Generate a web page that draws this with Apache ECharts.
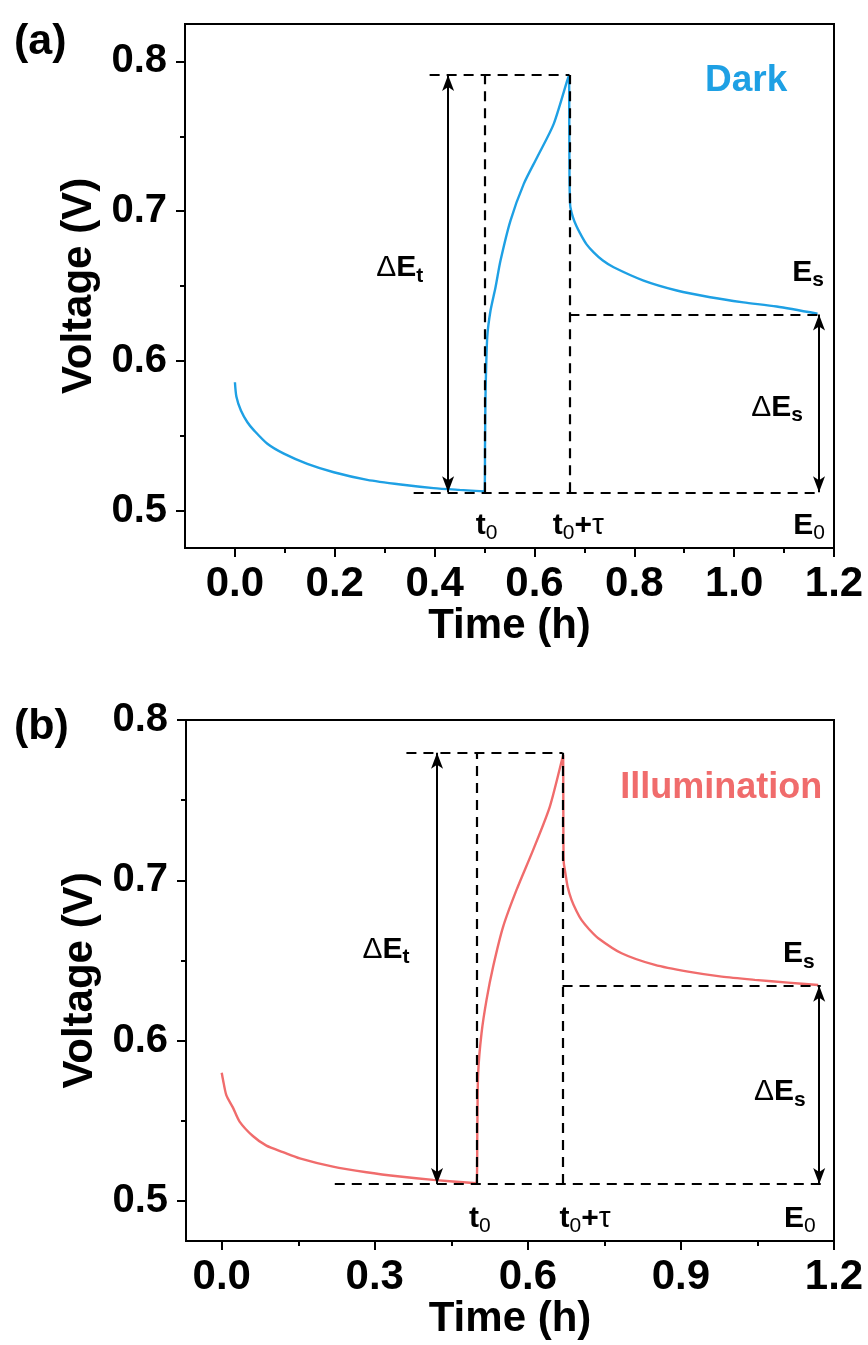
<!DOCTYPE html>
<html>
<head>
<meta charset="utf-8">
<script src="https://cdn.jsdelivr.net/npm/echarts@6/dist/echarts.min.js"></script>
<style>
  html, body { margin: 0; padding: 0; background: #fff; }
  #chart { width: 868px; height: 1345px; }
</style>
</head>
<body>
<div id="chart"></div>
<script>
// ---- Galvanostatic pulse response, dark ----
const darkTime = [0.000, 0.003, 0.012, 0.025, 0.0386, 0.065, 0.098, 0.145, 0.198, 0.265, 0.332, 0.398, 0.45, 0.5,
  0.501, 0.502, 0.5054, 0.512, 0.522, 0.532, 0.552, 0.5786, 0.6054, 0.6386, 0.669,
  0.6698, 0.6702, 0.671, 0.672, 0.677, 0.684, 0.692, 0.704, 0.7186, 0.737, 0.7586, 0.8186, 0.885, 0.952, 1.0186, 1.085, 1.167];
const darkVoltage = [0.5857, 0.576, 0.5668, 0.559, 0.5534, 0.5446, 0.538, 0.5312, 0.5256, 0.5205, 0.5174, 0.515, 0.5138, 0.5128,
  0.545, 0.578, 0.6158, 0.6336, 0.6492, 0.667, 0.6937, 0.7182, 0.736, 0.7583, 0.791,
  0.75, 0.72, 0.708, 0.7026, 0.696, 0.690, 0.6848, 0.678, 0.6725, 0.667, 0.6625, 0.6536, 0.647, 0.6425, 0.6391, 0.6363, 0.6315];

// ---- Galvanostatic pulse response, illuminated ----
const lightTime = [0.000, 0.0026, 0.009, 0.022, 0.035, 0.061, 0.0876, 0.12, 0.153, 0.218, 0.2837, 0.349, 0.414, 0.4994,
  0.501, 0.5026, 0.5092, 0.519, 0.532, 0.5516, 0.5778, 0.6104, 0.6431, 0.6692,
  0.6695, 0.6698, 0.6705, 0.6725, 0.678, 0.6856, 0.695, 0.705, 0.72, 0.738, 0.7837, 0.849, 0.914, 0.98, 1.045, 1.11, 1.169];
const lightVoltage = [0.580, 0.5755, 0.566, 0.5582, 0.5495, 0.5405, 0.5345, 0.5305, 0.5266, 0.5214, 0.5179, 0.5152, 0.5131, 0.511,
  0.545, 0.5797, 0.6046, 0.6254, 0.6462, 0.6711, 0.694, 0.719, 0.746, 0.7782,
  0.745, 0.72, 0.7107, 0.7065, 0.696, 0.6878, 0.681, 0.6753, 0.6695, 0.6639, 0.6545, 0.6472, 0.643, 0.6399, 0.6379, 0.6362, 0.6347];

// Characteristic levels: [t0, t0+tau, E0, Es, peak]
const darkLevels = [0.5, 0.67, 0.5122, 0.631, 0.791];
const lightLevels = [0.5, 0.668, 0.5106, 0.6343, 0.7795];
// Guide extents: [peak-line start, E0-line start, line end, dEt arrow x, dEs arrow x]
const darkGuides = [0.39, 0.358, 1.173, 0.427, 1.17];
const lightGuides = [0.362, 0.2216, 1.174, 0.422, 1.171];

// Axis ticks
const xTicksA = [0.0, 0.2, 0.4, 0.6, 0.8, 1.0, 1.2];
const xMinorA = [0.1, 0.3, 0.5, 0.7, 0.9, 1.1];
const xTicksB = [0.0, 0.3, 0.6, 0.9, 1.2];
const xMinorB = [0.15, 0.45, 0.75, 1.05];
const yTicks = [0.5, 0.6, 0.7, 0.8];
const yMinor = [0.55, 0.65, 0.75];

const FONT = '"Liberation Sans", Arial, Helvetica, sans-serif';
const BLUE = '#1ea0e4';
const RED = '#f06c6c';
const BLACK = '#000';

const zip = (xs, ys) => xs.map((x, i) => [x, ys[i]]);

const rich = {
  d: { fontSize: 30, fontFamily: FONT, color: BLACK },
  e: { fontSize: 30, fontFamily: FONT, fontWeight: 'bold', color: BLACK },
  s: { fontSize: 21, fontFamily: FONT, fontWeight: 'bold', color: BLACK, padding: [16, 0, 0, 0] },
  n: { fontSize: 21, fontFamily: FONT, color: BLACK, padding: [16, 0, 0, 0] },
  tau: { fontSize: 30, fontFamily: FONT, color: BLACK }
};

function xAxes(gridIndex, min, max, major, minor) {
  return [{
    type: 'value', gridIndex, min, max, position: 'bottom',
    axisLine: { show: true, onZero: false, lineStyle: { color: BLACK, width: 2 } },
    axisTick: { show: true, inside: false, length: 9, customValues: major, lineStyle: { color: BLACK, width: 2 } },
    axisLabel: { show: true, customValues: major, margin: 15, formatter: v => v.toFixed(1),
      color: BLACK, fontSize: 42, fontWeight: 'bold', fontFamily: FONT },
    splitLine: { show: false },
    name: 'Time (h)', nameLocation: 'middle', nameGap: 56,
    nameTextStyle: { color: BLACK, fontSize: 42, fontWeight: 'bold', fontFamily: FONT }
  }, {
    type: 'value', gridIndex, min, max, position: 'bottom',
    axisLine: { show: false, onZero: false },
    axisTick: { show: true, inside: false, length: 5, customValues: minor, lineStyle: { color: BLACK, width: 2 } },
    axisLabel: { show: false }, splitLine: { show: false }
  }];
}

function yAxes(gridIndex, min, max) {
  return [{
    type: 'value', gridIndex, min, max, position: 'left',
    axisLine: { show: true, onZero: false, lineStyle: { color: BLACK, width: 2 } },
    axisTick: { show: true, inside: false, length: 9, customValues: yTicks, lineStyle: { color: BLACK, width: 2 } },
    axisLabel: { show: true, customValues: yTicks, margin: 18, formatter: v => v.toFixed(1),
      color: BLACK, fontSize: 40, fontWeight: 'bold', fontFamily: FONT },
    splitLine: { show: false },
    name: 'Voltage (V)', nameLocation: 'middle', nameGap: 80,
    nameTextStyle: { color: BLACK, fontSize: 42, fontWeight: 'bold', fontFamily: FONT }
  }, {
    type: 'value', gridIndex, min, max, position: 'left',
    axisLine: { show: false, onZero: false },
    axisTick: { show: true, inside: false, length: 5, customValues: yMinor, lineStyle: { color: BLACK, width: 2 } },
    axisLabel: { show: false }, splitLine: { show: false }
  }];
}

function panelSeries(xi, yi, time, volt, color, levels, guides, texts) {
  const [t0, t1, e0, es, top] = levels;
  const [topStart, e0Start, end, arrowT, arrowS] = guides;
  const seg = (a, b) => [{ coord: a }, { coord: b }];
  return [{
    type: 'line', xAxisIndex: xi, yAxisIndex: yi, data: zip(time, volt),
    symbol: 'none', smooth: 0.25, lineStyle: { color, width: 2.4 }, z: 2, silent: true
  }, {
    type: 'line', xAxisIndex: xi, yAxisIndex: yi, data: [], z: 3, silent: true,
    markLine: {
      silent: true, symbol: 'none', animation: false,
      label: { show: false },
      lineStyle: { type: [10, 7], color: BLACK, width: 2.2 },
      data: [
        seg([topStart, top], [t1, top]),
        seg([e0Start, e0], [end, e0]),
        seg([t1, es], [end, es]),
        seg([t0, e0], [t0, top]),
        seg([t1, e0], [t1, top])
      ]
    }
  }, {
    type: 'line', xAxisIndex: xi, yAxisIndex: yi, data: [], z: 4, silent: true,
    markLine: {
      silent: true, symbol: ['arrow', 'arrow'], symbolSize: [9, 16], animation: false,
      label: { show: false },
      lineStyle: { type: 'solid', color: BLACK, width: 2 },
      data: [
        seg([arrowT, e0], [arrowT, top]),
        seg([arrowS, e0], [arrowS, es])
      ]
    }
  }, {
    type: 'scatter', xAxisIndex: xi, yAxisIndex: yi, symbolSize: 0, z: 5, silent: true,
    itemStyle: { opacity: 1 },
    label: { show: true, position: 'inside', rich },
    data: texts
  }];
}

function txt(x, y, formatter, style) {
  return { value: [x, y], label: Object.assign({ formatter }, style || {}) };
}

const darkTexts = [
  txt(0.330, 0.662, '{d|Δ}{e|E}{s|t}'),
  txt(1.086, 0.569, '{d|Δ}{e|E}{s|s}'),
  txt(1.148, 0.659, '{e|E}{s|s}'),
  txt(0.504, 0.490, '{e|t}{n|0}'),
  txt(0.688, 0.490, '{e|t}{n|0}{e|+}{tau|τ}'),
  txt(1.150, 0.490, '{e|E}{n|0}'),
  txt(1.024, 0.787, 'Dark', { color: BLUE, fontSize: 37, fontWeight: 'bold', fontFamily: FONT })
];
const lightTexts = [
  txt(0.322, 0.657, '{d|Δ}{e|E}{s|t}'),
  txt(1.094, 0.568, '{d|Δ}{e|E}{s|s}'),
  txt(1.131, 0.654, '{e|E}{s|s}'),
  txt(0.506, 0.489, '{e|t}{n|0}'),
  txt(0.712, 0.489, '{e|t}{n|0}{e|+}{tau|τ}'),
  txt(1.133, 0.489, '{e|E}{n|0}'),
  txt(0.979, 0.7576, 'Illumination', { color: RED, fontSize: 36, fontWeight: 'bold', fontFamily: FONT })
];

const chart = echarts.init(document.getElementById('chart'), null, { renderer: 'canvas' });
chart.setOption({
  animation: false,
  backgroundColor: '#fff',
  graphic: [
    { type: 'text', left: 14, top: 21, style: { text: '(a)', font: 'bold 43px ' + FONT, fill: BLACK } },
    { type: 'text', left: 14, top: 706, style: { text: '(b)', font: 'bold 43px ' + FONT, fill: BLACK } }
  ],
  grid: [
    { left: 185, top: 24, width: 649, height: 524, show: true, borderColor: BLACK, borderWidth: 2, backgroundColor: 'transparent', containLabel: false },
    { left: 186, top: 720, width: 648, height: 521, show: true, borderColor: BLACK, borderWidth: 2, backgroundColor: 'transparent', containLabel: false }
  ],
  xAxis: [
    ...xAxes(0, -0.1, 1.2, xTicksA, xMinorA),
    ...xAxes(1, -0.07, 1.2, xTicksB, xMinorB)
  ],
  yAxis: [
    ...yAxes(0, 0.475, 0.825),
    ...yAxes(1, 0.475, 0.8)
  ],
  series: [
    ...panelSeries(0, 0, darkTime, darkVoltage, BLUE, darkLevels, darkGuides, darkTexts),
    ...panelSeries(2, 2, lightTime, lightVoltage, RED, lightLevels, lightGuides, lightTexts)
  ]
});
</script>
</body>
</html>
